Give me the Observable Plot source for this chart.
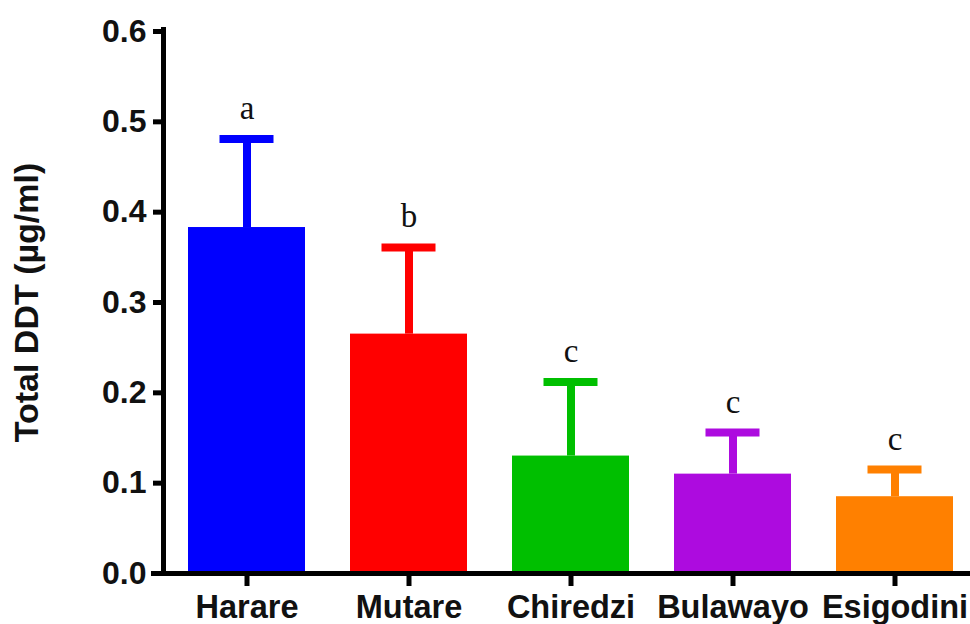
<!DOCTYPE html>
<html>
<head>
<meta charset="utf-8">
<script src="https://cdn.jsdelivr.net/npm/d3@7"></script>
<script src="https://cdn.jsdelivr.net/npm/@observablehq/plot@0.6"></script>
<style>
  html, body { margin: 0; padding: 0; background: #fff; }
  #chart { width: 970px; height: 624px; }
</style>
</head>
<body>
<div id="chart"></div>
<script>
const sites = ["Harare", "Mutare", "Chiredzi", "Bulawayo", "Esigodini"];
const means = [0.383, 0.265, 0.130, 0.110, 0.085];
const sds = [0.098, 0.096, 0.082, 0.046, 0.030];
const letters = ["a", "b", "c", "c", "c"];
const yTicks = [0, 0.1, 0.2, 0.3, 0.4, 0.5, 0.6];
const yLabel = "Total DDT (µg/ml)";

const palette = ["#0000ff", "#ff0000", "#00bf00", "#ad0bdf", "#ff8000"];

const data = sites.map((s, i) => ({site: s, mean: means[i], top: means[i] + sds[i], letter: letters[i]}));

const font = "'Liberation Sans', Arial, sans-serif";

const chart = Plot.plot({
  width: 970,
  height: 624,
  marginLeft: 163,
  marginRight: 0,
  marginTop: 31,
  marginBottom: 51,
  style: {fontFamily: font, background: "#fff", overflow: "visible"},
  x: {type: "band", domain: sites, range: [163, 978], paddingInner: 0.28, paddingOuter: 0.147},
  y: {domain: [0, 0.6]},
  color: {domain: sites, range: palette},
  marks: [
    Plot.barY(data, {x: "site", y: "mean", fill: "site"}),
    Plot.ruleX(data, {x: "site", y1: "mean", y2: "top", stroke: "site", strokeWidth: 8}),
    Plot.tickY(data, {x: "site", y: "top", stroke: "site", strokeWidth: 8, insetLeft: 31.5, insetRight: 31.5}),
    Plot.text(data, {x: "site", y: "top", text: "letter", dy: -20, lineAnchor: "bottom", fontFamily: "'Liberation Serif', 'Times New Roman', serif", fontSize: 33, fill: "#111"}),
    Plot.axisY({ticks: yTicks, tickFormat: d3.format(".1f"), tickSize: 10, tickPadding: 7, strokeWidth: 5, fontSize: 32, fontWeight: "bold", fill: "#111", label: null}),
    Plot.axisX({tickSize: 13, tickPadding: 8, strokeWidth: 5, fontSize: 32.5, fontWeight: "bold", fill: "#111", label: null}),
    Plot.frame({anchor: "left", strokeWidth: 5, stroke: "#000", insetTop: -2}),
    Plot.frame({anchor: "bottom", strokeWidth: 5, stroke: "#000", insetLeft: -10}),
    Plot.text([yLabel], {frameAnchor: "left", dx: -136, rotate: -90, textAnchor: "middle", fontSize: 34, fontWeight: "bold", fill: "#111"})
  ]
});

document.getElementById("chart").appendChild(chart);
</script>
</body>
</html>
